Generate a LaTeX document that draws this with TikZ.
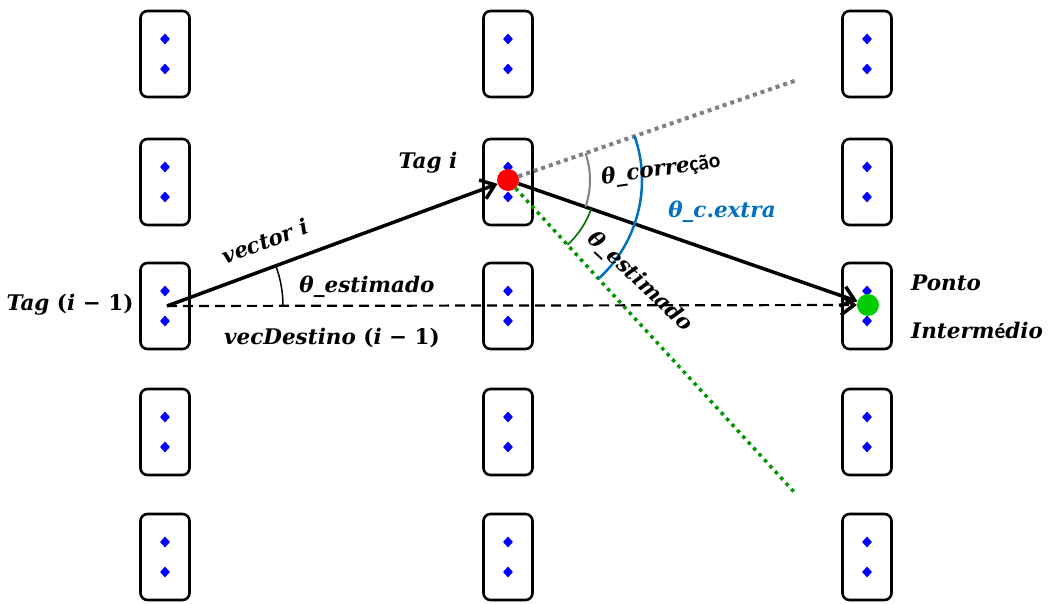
\documentclass[tikz,border=0pt]{standalone}
\usepackage{fontspec}
\newfontfamily\labfont{DejaVu Serif}
\newfontfamily\accfont{Carlito}
\newcommand\mi[1]{{\itshape #1}}
\newcommand\up[1]{{\accfont #1}}
\usetikzlibrary{arrows.meta,shapes.geometric,calc}
\definecolor{arcblue}{RGB}{0,112,192}
\definecolor{dotgreen}{RGB}{0,204,0}
\definecolor{linegreen}{RGB}{0,150,0}
\definecolor{arcgreen}{RGB}{0,110,0}
\definecolor{dotgray}{RGB}{128,128,128}
\begin{document}
\begin{tikzpicture}[x=1pt,y=1pt,
  tagbox/.style={draw,line width=2.6pt,rounded corners=7pt,minimum width=49pt,minimum height=86pt,inner sep=0pt},
  dmd/.style={diamond,fill=blue,inner sep=0pt,minimum width=10pt,minimum height=11pt},
  vec/.style={line width=3.5pt,-{Straight Barb[length=13pt,width=20pt]}},
  lbl/.style={font=\fontsize{21.5}{25}\selectfont\labfont\bfseries,inner sep=1pt},
  dot/.style={circle,inner sep=0pt,minimum size=22pt}
]
\useasboundingbox (0,0) rectangle (1051,603);
% tag boxes
\foreach \c/\x in {1/165,2/508,3/867}{
  \foreach \r/\y in {1/549,2/421,3/297,4/171,5/46}{
    \node[tagbox] (b\c\r) at (\x,\y) {};
    \node[dmd] (d\c\r a) at ([yshift=15pt]b\c\r.center) {};
    \node[dmd] (d\c\r b) at ([yshift=-15pt]b\c\r.center) {};
  }
}
% points
\coordinate (tagprev) at (167,297);
\node[dot,fill=red] (tagi) at (508,423) {};
\node[dot,fill=dotgreen] (pi) at (868,298) {};
\coordinate (grayend) at (797,523);
\coordinate (greenend) at (795,110);
% construction lines
\draw[dotgray,line width=4pt,dash pattern=on 4pt off 4pt] (tagi) -- (grayend);
\draw[linegreen,line width=3.5pt,dash pattern=on 3.5pt off 4.5pt] (tagi) -- (greenend);
% vectors
\draw[line width=2.2pt,dash pattern=on 10pt off 6pt,-{Straight Barb[length=13pt,width=20pt,line width=3.5pt]}] (tagprev) -- (pi);
\draw[vec] (tagprev) -- (tagi);
\draw[vec] (tagi) -- (pi);
% angle arcs
\draw[line width=1.5pt] ($(tagprev)+(116,0)$) arc[start angle=0,end angle=20.3,radius=116];
\draw[dotgray,line width=2pt] ($(tagi.center)+(19.1:82)$) arc[start angle=19.1,end angle=-19.1,radius=82];
\draw[arcgreen,line width=1.6pt] ($(tagi.center)+(-19.1:88)$) arc[start angle=-19.1,end angle=-47.5,radius=88];
\draw[arcblue,line width=2.5pt] ($(tagi.center)+(19.1:134)$) arc[start angle=19.1,end angle=-47.5,radius=134];
% labels
\node[lbl] (ltagprev) at (70,298) {\mi{Tag} (\mi{i} − 1)};
\node[lbl,rotate=20.3] (lvec) at (265,362) {\mi{vector i}};
\node[lbl] (lest) at (367,316) {\mi{θ\_estimado}};
\node[lbl] (ldest) at (332,265) {\mi{vecDestino} (\mi{i} − 1)};
\node[lbl] (ltagi) at (428,440) {\mi{Tag i}};
\node[lbl,rotate=8] (lcorr) at (661,433) {\mi{θ\_corre}\up{ção}};
\node[lbl,text=arcblue] (lcx) at (722,391) {\mi{θ\_c}.\mi{extra}};
\node[lbl,rotate=-43] (lest2) at (640,321) {\mi{θ\_estimado}};
\node[lbl,anchor=west] (lponto) at (910,320) {\mi{Ponto}};
\node[lbl,anchor=west] (linter) at (910,273) {\mi{Interm}\up{é}\mi{dio}};
\end{tikzpicture}
\end{document}
